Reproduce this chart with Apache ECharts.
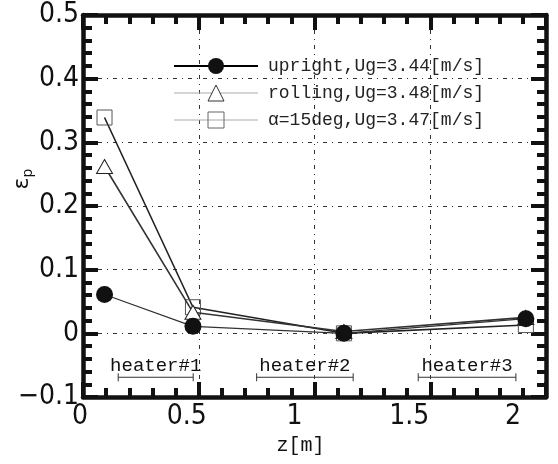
<!DOCTYPE html>
<html>
<head>
<meta charset="utf-8">
<script src="https://cdn.jsdelivr.net/npm/echarts@6/dist/echarts.min.js"></script>
<style>
  html, body { margin: 0; padding: 0; background: #fff; }
  #chart { width: 558px; height: 464px; }
</style>
</head>
<body>
<div id="chart"></div>
<script>
// Particle volume fraction along the column height
const zPos    = [0.093, 0.475, 1.127, 1.913];
const upright = [0.061, 0.011, 0.000, 0.023];
const rolling = [0.262, 0.033, 0.003, 0.025];
const alpha15 = [0.339, 0.041, 0.000, 0.013];
const seriesNames = ['upright,Ug=3.44[m/s]', 'rolling,Ug=3.48[m/s]', 'α=15deg,Ug=3.47[m/s]'];

// Heater sections
const heaterNames = ['heater#1', 'heater#2', 'heater#3'];
const heaterStart = [0.152, 0.750, 1.448];
const heaterEnd   = [0.476, 1.167, 1.870];
const heaterBarY  = -0.069;
const heaterTextY = -0.052;

// Tick labels
const xTicks = [0, 0.5, 1, 1.5, 2];
const xTickLabels = ['0', '0.5', '1', '1.5', '2'];
const yTicks = [-0.1, 0, 0.1, 0.2, 0.3, 0.4, 0.5];
const yTickLabels = ['−0.1', '0', '0.1', '0.2', '0.3', '0.4', '0.5'];

const tickFont = '"Liberation Sans Narrow", "DejaVu Sans Condensed", "Liberation Sans", sans-serif';
const monoFont = '"Liberation Mono", "DejaVu Sans Mono", monospace';
const xLabelShift = [3, 12, 20, 21, 33];

const xRich = {};
xLabelShift.forEach((s, i) => {
  xRich['x' + i] = { fontFamily: tickFont, fontSize: 28, color: '#111', padding: [0, 2 * s, 0, 0] };
});

function nearestIndex(arr, v) {
  let best = 0;
  arr.forEach((t, i) => { if (Math.abs(t - v) < Math.abs(arr[best] - v)) best = i; });
  return best;
}

const tickLine = { width: 4, color: '#111' };
function frameAxis(extra) {
  return Object.assign({
    type: 'value',
    axisLine: { show: true, onZero: false, lineStyle: { width: 4.5, color: '#111' } },
    axisTick: { show: true, inside: true, length: 15, lineStyle: tickLine },
    minorTick: { show: true, splitNumber: 5, length: 9, lineStyle: tickLine },
    splitLine: { show: false },
    minorSplitLine: { show: false }
  }, extra);
}

const gridLine = { show: true, lineStyle: { color: '#333', width: 1, type: [4, 5, 1, 5] } };

const chart = echarts.init(document.getElementById('chart'), null, { renderer: 'canvas' });

chart.setOption({
  animation: false,
  backgroundColor: '#fff',
  grid: { left: 83, right: 12, top: 15, bottom: 67, containLabel: false, outerBoundsMode: 'none' },
  xAxis: [
    frameAxis({
      min: 0, max: 2, interval: 0.5, position: 'bottom',
      splitLine: gridLine,
      name: 'z[m]', nameLocation: 'middle', nameGap: 32,
      nameTextStyle: { fontFamily: monoFont, fontSize: 20, color: '#111', padding: [0, 28, 0, 0] },
      axisLabel: {
        show: true, margin: 6,
        formatter: v => {
          const i = nearestIndex(xTicks, v);
          return '{x' + i + '|' + xTickLabels[i] + '}';
        },
        rich: xRich
      }
    }),
    frameAxis({ min: 0, max: 2, interval: 0.5, position: 'top', axisLabel: { show: false } })
  ],
  yAxis: [
    frameAxis({
      min: -0.1, max: 0.5, interval: 0.1, position: 'left',
      splitLine: gridLine,
      name: '{e|ε}{p|p}', nameLocation: 'middle', nameGap: 48, nameMoveOverlap: false,
      nameTextStyle: {
        padding: [0, 0, 0, 54],
        rich: {
          e: { fontFamily: '"DejaVu Sans", sans-serif', fontSize: 22, color: '#111' },
          p: { fontFamily: '"DejaVu Sans", sans-serif', fontSize: 14, color: '#111', padding: [12, 0, 0, 0] }
        }
      },
      axisLabel: {
        show: true, margin: 4,
        fontFamily: tickFont, fontSize: 28, color: '#111',
        formatter: v => yTickLabels[nearestIndex(yTicks, v)]
      }
    }),
    frameAxis({ min: -0.1, max: 0.5, interval: 0.1, position: 'right', axisLabel: { show: false } })
  ],
  legend: {
    orient: 'vertical', left: 168, top: 52, padding: 5,
    itemWidth: 84, itemHeight: 20, itemGap: 9,
    textStyle: { fontFamily: monoFont, fontSize: 18, color: '#222', padding: [0, 0, 0, 5] },
    data: [
      { name: seriesNames[0], lineStyle: { width: 2, color: '#000' } },
      { name: seriesNames[1], lineStyle: { width: 1, color: '#aaa' }, itemStyle: { borderWidth: 1, borderColor: '#333' } },
      { name: seriesNames[2], lineStyle: { width: 1, color: '#aaa' }, itemStyle: { borderWidth: 1, borderColor: '#666' } }
    ]
  },
  series: [
    {
      name: seriesNames[2], type: 'line',
      data: zPos.map((z, i) => [z, alpha15[i]]),
      symbol: 'rect', symbolSize: 15, showAllSymbol: true,
      itemStyle: { color: 'rgba(255,255,255,0)', borderColor: '#555', borderWidth: 1 },
      lineStyle: { color: '#222', width: 1.6 },
      emphasis: { disabled: true }, z: 2
    },
    {
      name: seriesNames[1], type: 'line',
      data: zPos.map((z, i) => [z, rolling[i]]),
      symbol: 'triangle', symbolSize: [16, 14], showAllSymbol: true,
      itemStyle: { color: '#fff', borderColor: '#222', borderWidth: 1 },
      lineStyle: { color: '#333', width: 1.6 },
      emphasis: { disabled: true }, z: 3
    },
    {
      name: seriesNames[0], type: 'line',
      data: zPos.map((z, i) => [z, upright[i]]),
      symbol: 'circle', symbolSize: 17, showAllSymbol: true,
      itemStyle: { color: '#111', borderColor: '#111', borderWidth: 0 },
      lineStyle: { color: '#333', width: 1.3 },
      emphasis: { disabled: true }, z: 4
    },
    {
      type: 'custom', silent: true, z: 1,
      data: heaterNames.map((n, i) => [heaterStart[i], heaterEnd[i], heaterBarY, heaterTextY]),
      encode: { x: [0, 1], y: [2, 3] },
      renderItem: (params, api) => {
        const a = api.coord([api.value(0), api.value(2)]);
        const b = api.coord([api.value(1), api.value(2)]);
        const t = api.coord([(api.value(0) + api.value(1)) / 2, api.value(3)]);
        const stroke = { stroke: '#333', lineWidth: 1 };
        return {
          type: 'group',
          children: [
            { type: 'line', shape: { x1: a[0], y1: a[1], x2: b[0], y2: b[1] }, style: stroke },
            { type: 'line', shape: { x1: a[0], y1: a[1] - 4, x2: a[0], y2: a[1] + 4 }, style: stroke },
            { type: 'line', shape: { x1: b[0], y1: b[1] - 4, x2: b[0], y2: b[1] + 4 }, style: stroke },
            {
              type: 'text', x: t[0], y: t[1],
              style: {
                text: heaterNames[params.dataIndex], fill: '#111',
                font: '19px ' + monoFont, align: 'center', verticalAlign: 'middle'
              }
            }
          ]
        };
      }
    }
  ]
});
</script>
</body>
</html>
